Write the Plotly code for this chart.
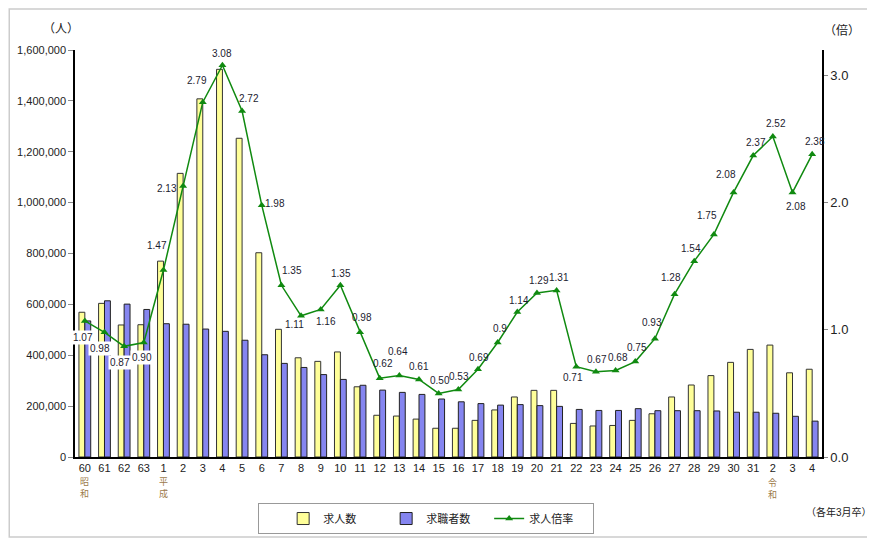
import plotly.graph_objects as go

# 卒業年 (各年3月卒)
years = ["60", "61", "62", "63"] + [str(i) for i in range(1, 32)] + ["2", "3", "4"]
era_marks = {0: "昭<br>和", 4: "平<br>成", 35: "令<br>和"}

# 求人数
job_offers = [569000, 604000, 519000, 520000, 770000, 1115000, 1408000, 1524000, 1253000, 803000,
              502000, 390000, 376000, 413000, 276000, 164000, 161000, 149000, 113000, 113000,
              144000, 185000, 236000, 262000, 262000, 132000, 122000, 124000, 144000, 170000,
              236000, 283000, 320000, 372000, 423000, 440000, 331000, 345000]
# 求職者数
job_seekers = [535000, 614000, 601000, 580000, 524000, 522000, 503000, 494000, 459000, 402000,
               368000, 352000, 324000, 305000, 282000, 263000, 254000, 246000, 228000, 217000,
               210000, 204000, 206000, 202000, 199000, 187000, 183000, 183000, 190000, 182000,
               182000, 182000, 181000, 176000, 176000, 172000, 160000, 141000]
# 求人倍率
ratio = [1.07, 0.98, 0.87, 0.90, 1.47, 2.13, 2.79, 3.08, 2.72, 1.98,
         1.35, 1.11, 1.16, 1.35, 0.98, 0.62, 0.64, 0.61, 0.50, 0.53,
         0.69, 0.9, 1.14, 1.29, 1.31, 0.71, 0.67, 0.68, 0.75, 0.93,
         1.28, 1.54, 1.75, 2.08, 2.37, 2.52, 2.08, 2.38]
ratio_text = ["1.07", "0.98", "0.87", "0.90", "1.47", "2.13", "2.79", "3.08", "2.72", "1.98",
              "1.35", "1.11", "1.16", "1.35", "0.98", "0.62", "0.64", "0.61", "0.50", "0.53",
              "0.69", "0.9", "1.14", "1.29", "1.31", "0.71", "0.67", "0.68", "0.75", "0.93",
              "1.28", "1.54", "1.75", "2.08", "2.37", "2.52", "2.08", "2.38"]

#label offsets in px (dx right, dy down) from each marker
label_offsets = [(-2, 17), (-4, 16), (-4, 16), (-2, 15), (-6, -25), (-16, 2), (-6, -22), (0, -12), (7, -13), (13, -2),
                 (11, -15), (-7, 9), (5, 12), (1, -12), (2, -15), (3, -15), (-1, -24), (0, -13), (1, -13), (1, -13),
                 (1, -12), (2, -14), (2, -12), (2, -12), (2, -13), (-3, 11), (1, -12), (2, -13), (2, -14), (-3, -16),
                 (-4, -17), (-3, -13), (-7, -19), (-8, -18), (3, -13), (3, -13), (3, 14), (3, -13)]

FONT = "Liberation Sans, Arial, Noto Sans CJK JP, sans-serif"
xcat = [f"{i}_{y}" for i, y in enumerate(years)]

fig = go.Figure()
fig.add_trace(go.Bar(x=xcat, y=job_offers, name="求人数",
                     marker=dict(color="#FFFF99", line=dict(color="#333333", width=1))))
fig.add_trace(go.Bar(x=xcat, y=job_seekers, name="求職者数",
                     marker=dict(color="#8585F0", line=dict(color="#222222", width=1))))
fig.add_trace(go.Scatter(x=xcat, y=ratio, name="求人倍率", yaxis="y2", mode="lines+markers",
                         line=dict(color="#108A10", width=1.5),
                         marker=dict(symbol="triangle-up", size=7, color="#108A10")))

annotations = []
for i, (t, (dx, dy)) in enumerate(zip(ratio_text, label_offsets)):
    annotations.append(dict(x=xcat[i], y=ratio[i], xref="x", yref="y2", text=t, showarrow=False,
                            xshift=dx, yshift=-dy, font=dict(size=10, color="#1c1c30", family=FONT),
                            bgcolor="white" if i < 4 else None, borderpad=1))
for i, t in era_marks.items():
    annotations.append(dict(x=xcat[i], y=-0.043, xref="x", yref="paper", text=t, showarrow=False,
                            yanchor="top", font=dict(size=9, color="#9C7A4A", family=FONT)))
annotations += [
    dict(x=-0.019, y=1.052, xref="paper", yref="paper", text="（人）", showarrow=False,
         xanchor="center", yanchor="middle", font=dict(size=12, color="#222", family=FONT)),
    dict(x=1.027, y=1.047, xref="paper", yref="paper", text="（倍）", showarrow=False,
         xanchor="center", yanchor="middle", font=dict(size=12, color="#222", family=FONT)),
    dict(x=1.023, y=-0.135, xref="paper", yref="paper", text="（各年3月卒）", showarrow=False,
         xanchor="center", yanchor="middle", font=dict(size=10, color="#222", family=FONT)),
]

# page has an 8px body margin, so the figure is a bit smaller and margins shifted
fig.update_layout(
    width=867, height=534,
    margin=dict(l=67, r=53, t=42, b=85),
    plot_bgcolor="white", paper_bgcolor="white",
    font=dict(family=FONT, size=11, color="#222"),
    bargap=0.4, bargroupgap=0.0,
    xaxis=dict(tickmode="array", tickvals=xcat, ticktext=years, showline=True, linecolor="black",
               linewidth=1.5, ticks="", showgrid=False, tickfont=dict(size=11),
               range=[-0.5, len(xcat) - 0.5], automargin=False),
    yaxis=dict(range=[0, 1600000], dtick=200000, tickformat=",", showline=True, linecolor="black",
               linewidth=1.5, ticks="outside", ticklen=5, tickcolor="#888", showgrid=False,
               tickfont=dict(size=11), automargin=False),
    yaxis2=dict(range=[0, 3.2], dtick=1, tickformat=".1f", overlaying="y", side="right",
                showline=True, linecolor="black", linewidth=1.5, ticks="outside", ticklen=4,
                tickcolor="#888", showgrid=False, tickfont=dict(size=13), automargin=False),
    legend=dict(orientation="h", x=0.288, y=0.073, xref="container", yref="container",
                xanchor="left", yanchor="top", title=dict(text="&nbsp;" * 4, side="left"),
                bordercolor="#999", borderwidth=1, bgcolor="white", entrywidth=58,
                font=dict(size=11), itemwidth=30),
    annotations=annotations,
    shapes=[dict(type="rect", xref="paper", yref="paper", x0=-0.088, x1=1.0616, y0=-0.1966, y1=1.1007,
                 line=dict(color="#cccccc", width=1.5))],
)

fig.write_html("out.html")
